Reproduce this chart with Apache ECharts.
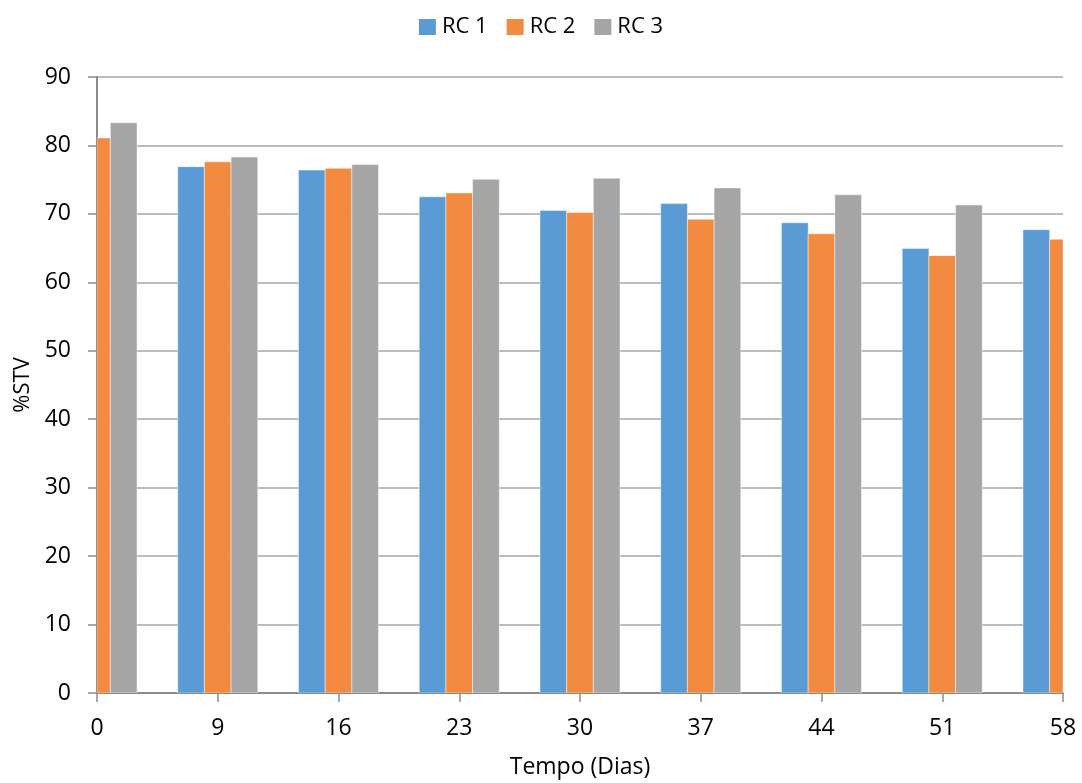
<!DOCTYPE html>
<html>
<head>
<meta charset="utf-8">
<script src="https://cdn.jsdelivr.net/npm/echarts@6/dist/echarts.min.js"></script>
<style>
html,body{margin:0;padding:0;background:#fff;}
#chart{width:1082px;height:783px;}
</style>
</head>
<body>
<div id="chart"></div>
<script>
const categories = ['0','9','16','23','30','37','44','51','58'];
const rc1 = [null, 76.9, 76.4, 72.5, 70.5, 71.5, 68.7, 64.95, 67.7];
const rc2 = [81.1, 77.6, 76.65, 73.05, 70.2, 69.2, 67.1, 63.9, 66.3];
const rc3 = [83.3, 78.3, 77.2, 75.05, 75.2, 73.8, 72.8, 71.3, null];
const seriesNames = ['RC 1','RC 2','RC 3'];
const colors = ['#5b9bd5','#f28a3f','#a5a5a5'];

const FONT = "'Open Sans', 'Noto Sans', sans-serif";
const chart = echarts.init(document.getElementById('chart'), null, {renderer:'canvas'});

// Bars are drawn through the category axis scale; clipped to the plot area
function barSeries(idx, values) {
  return {
    type:'custom', name:seriesNames[idx],
    itemStyle:{color:colors[idx]},
    encode:{x:0, y:1},
    clip:true,
    data: values.map((v, i) => [i, v]),
    renderItem(params, api) {
      const v = api.value(1);
      if (v == null || isNaN(v)) return null;
      const top = api.coord([api.value(0), v]);
      const base = api.coord([api.value(0), 0]);
      const band = api.size([1, 0])[0];
      const w = band * 0.221;
      const x = top[0] + (idx - 1) * w - w / 2;
      const cs = params.coordSys;
      const rect = echarts.graphic.clipRectByRect(
        {x:x, y:top[1], width:w, height:base[1] - top[1]},
        {x:cs.x, y:cs.y, width:cs.width, height:cs.height}
      );
      if (!rect) return null;
      return {
        type:'rect', shape:rect,
        style:{fill:api.visual('color'), stroke:'rgba(255,255,255,0.45)', lineWidth:1}
      };
    }
  };
}

chart.setOption({
  animation:false,
  color:colors,
  textStyle:{fontFamily:FONT},
  legend:{
    top:11, left:'center',
    itemWidth:17, itemHeight:16, itemGap:19,
    icon:'rect',
    textStyle:{fontSize:22, color:'#000', fontFamily:FONT, padding:[0,0,0,1]},
    data:seriesNames
  },
  grid:{left:97, right:19, top:77, bottom:90, containLabel:false, outerBoundsMode:'none'},
  xAxis:{
    type:'category', data:categories, boundaryGap:false,
    name:'Tempo (Dias)', nameLocation:'middle', nameGap:63,
    nameTextStyle:{fontSize:23, color:'#000', fontFamily:FONT},
    axisLine:{lineStyle:{color:'#8c8c8c', width:2}},
    axisTick:{show:true, length:9, alignWithLabel:true, lineStyle:{color:'#8c8c8c', width:1.5}},
    axisLabel:{fontSize:23, color:'#000', margin:24, fontFamily:FONT},
    splitLine:{show:false}
  },
  yAxis:{
    type:'value', min:0, max:90, interval:10,
    name:'%STV', nameLocation:'middle', nameGap:61,
    nameTextStyle:{fontSize:22, color:'#000', fontFamily:FONT},
    axisLine:{show:true, lineStyle:{color:'#8c8c8c', width:2}},
    axisTick:{show:true, length:9, lineStyle:{color:'#8c8c8c', width:1.5}},
    axisLabel:{fontSize:23, color:'#000', margin:26, fontFamily:FONT},
    splitLine:{show:true, lineStyle:{color:'#a6a6a6', width:1.5}}
  },
  series:[barSeries(0, rc1), barSeries(1, rc2), barSeries(2, rc3)]
});
</script>
</body>
</html>
